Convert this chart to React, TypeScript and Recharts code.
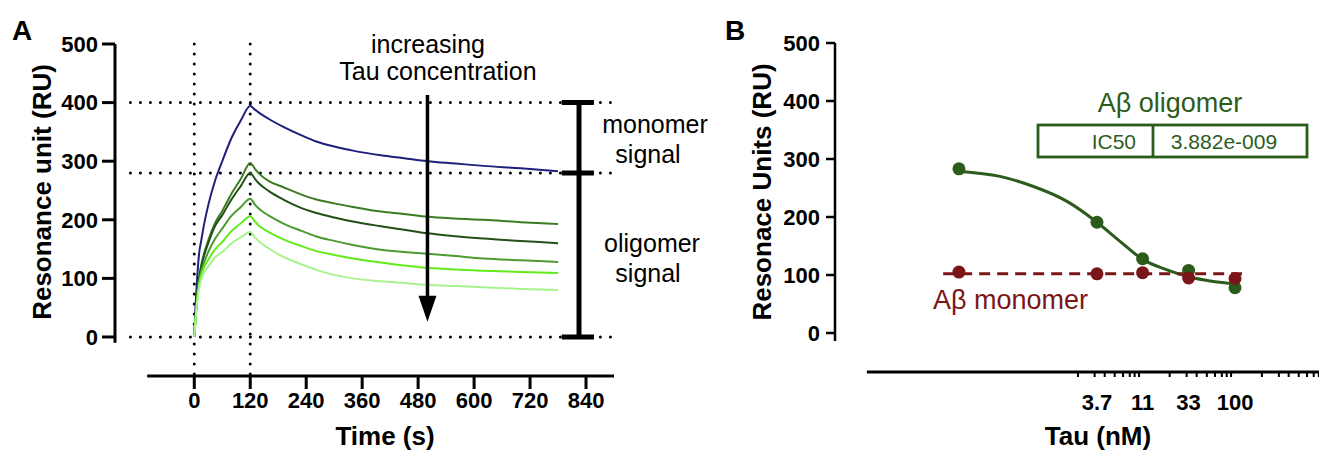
import React from 'react';
import { ComposedChart, Line, XAxis, YAxis, ReferenceLine, ReferenceDot } from 'recharts';

// ---------- Panel A: sensorgram ----------
const sensorTime = [0, 2, 5, 10, 15, 20, 30, 45, 60, 80, 100, 120, 130, 140, 160, 190, 230, 260, 300, 340, 400, 450, 500, 560, 620, 700, 780];
const monomerTrace = [0, 40, 85, 140, 165, 188, 225, 268, 300, 340, 370, 394, 388, 382, 372, 359, 344, 334, 325, 318, 310, 305, 300, 296, 292, 288, 283];
const oligoTrace1 = [0, 25, 58, 100, 123, 140, 165, 195, 215, 245, 270, 297, 287, 278, 266, 256, 243, 235, 228, 222, 214, 210, 205, 202, 200, 196, 193];
const oligoTrace2 = [0, 25, 58, 98, 120, 136, 160, 190, 208, 235, 258, 280, 270, 261, 249, 235, 220, 212, 204, 197, 189, 183, 177, 172, 168, 164, 160];
const oligoTrace3 = [0, 24, 55, 92, 112, 125, 145, 168, 185, 207, 222, 236, 226, 218, 207, 194, 181, 172, 164, 157, 149, 145, 142, 138, 134, 131, 128];
const oligoTrace4 = [0, 23, 53, 88, 106, 117, 132, 150, 162, 181, 194, 206, 197, 189, 179, 167, 155, 147, 140, 134, 127, 122, 118, 115, 113, 111, 109];
const oligoTrace5 = [0, 22, 50, 82, 98, 108, 120, 136, 145, 160, 170, 179, 170, 162, 151, 137, 124, 115, 106, 100, 95, 92, 89, 87, 85, 82, 80];
const timeTicks = [0, 120, 240, 360, 480, 600, 720, 840];
const ruTicks = [0, 100, 200, 300, 400, 500];
const guideTimes = [0, 120];
const guideLevels = [400, 280, 0];
const arrowTime = 500;
const arrowFrom = 413;
const arrowTo = 26;
const barTime = 825;
const barLevels = [400, 280, 0];

// ---------- Panel B: dose response ----------
const tauConc = [0.137, 3.7, 11, 33, 100];
const oligomerRU = [283, 191, 128, 108, 78];
const monomerRU = [105, 102, 104, 95, 94];
const oligoFitConc = [0.137, 0.365, 0.8, 1.81, 3.7, 6.41, 11, 19.7, 33, 59.2, 100];
const oligoFitRU = [279, 270, 253, 227, 191, 158, 127, 109, 97, 89, 85];
const monoFitConc = [0.094, 118];
const monoFitRU = [102, 102];
const tauTickLabels = [3.7, 11, 33, 100];
const tauMinorTicks = [2.35, 3.5, 4.45, 5.65, 6.9, 8.1, 9.1, 10.1, 21, 31.5, 40, 51, 62, 73, 82, 91, 190, 285, 360, 458, 558, 655, 740];

const FONT = '"Liberation Sans", Arial, Helvetica, sans-serif';
const GREEN = '#2c5c1b';
const RED = '#7a1619';
const traceColors = ['#1f1f7c', '#3b7b22', '#245016', '#4c9b30', '#62ea1a', '#a8f290'];
const traceKeys = ['m', 'o1', 'o2', 'o3', 'o4', 'o5'];
const traceArrays = [monomerTrace, oligoTrace1, oligoTrace2, oligoTrace3, oligoTrace4, oligoTrace5];

const sensorData = sensorTime.map((t, i) => {
  const row: Record<string, number> = { t };
  traceKeys.forEach((k, j) => { row[k] = traceArrays[j][i]; });
  return row;
});

const oligoPoints = tauConc.map((c, i) => ({ c, y: oligomerRU[i] }));
const monoPoints = tauConc.map((c, i) => ({ c, y: monomerRU[i] }));
const oligoFit = oligoFitConc.map((c, i) => ({ c, y: oligoFitRU[i] }));
const monoFit = monoFitConc.map((c, i) => ({ c, y: monoFitRU[i] }));

const A_XMIN = -170, A_XMAX = 900, A_YMIN = -66.6;
const B_XMIN = 0.0071, B_XMAX = 743, B_YMIN = -67.2;

const dotted = { stroke: '#000', strokeWidth: 3, strokeDasharray: '0 10', strokeLinecap: 'round' as const };

const TauTick = (props: any) => {
  const { x, y, payload } = props;
  if (tauTickLabels.includes(payload.value)) {
    return (
      <text x={x} y={y + 30} textAnchor="middle" dominantBaseline="central" fontSize={22} fontWeight="bold" fontFamily={FONT} fill="#000">
        {payload.value}
      </text>
    );
  }
  return <line x1={x} x2={x} y1={y} y2={y + 5} stroke="#000" strokeWidth={2} />;
};

const ArrowHead = (props: any) => {
  const { cx, cy } = props;
  return <polygon points={`${cx},${cy} ${cx - 9},${cy - 26} ${cx + 9},${cy - 26}`} fill="#000" />;
};

export default function App() {
  return (
    <div style={{ position: 'absolute', left: 0, top: 0, width: 1319, height: 454, background: '#fff', overflow: 'hidden', fontFamily: FONT }}>
      <div style={{ position: 'absolute', left: 0, top: 0 }}>
        <ComposedChart width={700} height={454} data={sensorData} margin={{ top: 44, right: 86, bottom: 18, left: 55 }}>
          <XAxis
            dataKey="t" type="number" domain={[A_XMIN, A_XMAX]} allowDataOverflow ticks={timeTicks} interval={0}
            axisLine={false} tickLine={{ stroke: '#000', strokeWidth: 3 }} tickSize={13} tickMargin={3} height={60}
            tick={{ fontSize: 22, fontWeight: 'bold', fill: '#000', fontFamily: FONT }}
          />
          <YAxis
            type="number" domain={[A_YMIN, 500]} allowDataOverflow ticks={ruTicks} interval={0} width={60}
            axisLine={false} tickLine={{ stroke: '#000', strokeWidth: 3 }} tickSize={13} tickMargin={4}
            tick={{ fontSize: 22, fontWeight: 'bold', fill: '#000', fontFamily: FONT }}
          />
          {guideTimes.map((g) => (
            <ReferenceLine key={'v' + g} ifOverflow="visible" segment={[{ x: g, y: 500 }, { x: g, y: A_YMIN }]} {...dotted} />
          ))}
          {guideLevels.map((g) => (
            <ReferenceLine key={'h' + g} ifOverflow="visible" segment={[{ x: -137, y: g }, { x: 897, y: g }]} {...dotted} />
          ))}
          <ReferenceLine ifOverflow="visible" segment={[{ x: A_XMIN, y: -10 }, { x: A_XMIN, y: 500 }]} stroke="#000" strokeWidth={3} />
          <ReferenceLine ifOverflow="visible" segment={[{ x: -101, y: A_YMIN }, { x: A_XMAX, y: A_YMIN }]} stroke="#000" strokeWidth={3} />
          {traceKeys.map((k, j) => (
            <Line key={k} dataKey={k} type="monotone" stroke={traceColors[j]} strokeWidth={2} dot={false} isAnimationActive={false} />
          ))}
          <ReferenceLine ifOverflow="visible" segment={[{ x: arrowTime, y: arrowFrom }, { x: arrowTime, y: 60 }]} stroke="#000" strokeWidth={3.5} />
          <ReferenceDot ifOverflow="visible" x={arrowTime} y={arrowTo} r={0} shape={ArrowHead} />
          <ReferenceLine ifOverflow="visible" segment={[{ x: barTime, y: 0 }, { x: barTime, y: 400 }]} stroke="#000" strokeWidth={5} />
          {barLevels.map((b) => (
            <ReferenceLine key={'c' + b} ifOverflow="visible" segment={[{ x: 788, y: b }, { x: 857, y: b }]} stroke="#000" strokeWidth={5} />
          ))}
        </ComposedChart>
      </div>

      <div style={{ position: 'absolute', left: 720, top: 0 }}>
        <ComposedChart width={599} height={454} margin={{ top: 43, right: 0, bottom: 22, left: 55 }}>
          <XAxis
            dataKey="c" type="number" scale="log" domain={[B_XMIN, B_XMAX]} allowDataOverflow
            ticks={[...tauTickLabels, ...tauMinorTicks]} interval={0} axisLine={false} tickLine={false}
            tickSize={0} tickMargin={0} height={60} tick={<TauTick />}
          />
          <YAxis
            dataKey="y" type="number" domain={[B_YMIN, 500]} allowDataOverflow ticks={ruTicks} interval={0} width={60}
            axisLine={false} tickLine={{ stroke: '#000', strokeWidth: 2.5 }} tickSize={9} tickMargin={6}
            tick={{ fontSize: 22, fontWeight: 'bold', fill: '#000', fontFamily: FONT }}
          />
          <ReferenceLine ifOverflow="visible" segment={[{ x: B_XMIN, y: -13.8 }, { x: B_XMIN, y: 500 }]} stroke="#000" strokeWidth={2.5} />
          <ReferenceLine ifOverflow="visible" segment={[{ x: 0.0152, y: B_YMIN }, { x: B_XMAX, y: B_YMIN }]} stroke="#000" strokeWidth={3} />
          <Line data={oligoFit} dataKey="y" type="monotone" stroke={GREEN} strokeWidth={3} dot={false} isAnimationActive={false} />
          <Line data={oligoPoints} dataKey="y" stroke="none" dot={{ r: 6.5, fill: GREEN, stroke: 'none' }} isAnimationActive={false} />
          <Line data={monoFit} dataKey="y" stroke={RED} strokeWidth={3} strokeDasharray="11 7" dot={false} isAnimationActive={false} />
          <Line data={monoPoints} dataKey="y" stroke="none" dot={{ r: 6.5, fill: RED, stroke: 'none' }} isAnimationActive={false} />
        </ComposedChart>
      </div>

      <svg width={1319} height={454} style={{ position: 'absolute', left: 0, top: 0, pointerEvents: 'none' }} fontFamily={FONT}>
        <text x={22} y={30} textAnchor="middle" dominantBaseline="central" fontSize={28} fontWeight="bold">A</text>
        <text x={735} y={30} textAnchor="middle" dominantBaseline="central" fontSize={28} fontWeight="bold">B</text>
        <text x={42} y={192} transform="rotate(-90 42 192)" textAnchor="middle" dominantBaseline="central" fontSize={26} fontWeight="bold">Resonance unit (RU)</text>
        <text x={385} y={436} textAnchor="middle" dominantBaseline="central" fontSize={26} fontWeight="bold">Time (s)</text>
        <text x={428} y={44} textAnchor="middle" dominantBaseline="central" fontSize={25}>increasing</text>
        <text x={438} y={71} textAnchor="middle" dominantBaseline="central" fontSize={25}>Tau concentration</text>
        <text x={655} y={124} textAnchor="middle" dominantBaseline="central" fontSize={25}>monomer</text>
        <text x={648} y={154} textAnchor="middle" dominantBaseline="central" fontSize={25}>signal</text>
        <text x={652} y={243} textAnchor="middle" dominantBaseline="central" fontSize={25}>oligomer</text>
        <text x={648} y={273} textAnchor="middle" dominantBaseline="central" fontSize={25}>signal</text>
        <text x={762} y={192} transform="rotate(-90 762 192)" textAnchor="middle" dominantBaseline="central" fontSize={26} fontWeight="bold">Resonace Units (RU)</text>
        <text x={1098} y={436} textAnchor="middle" dominantBaseline="central" fontSize={26} fontWeight="bold">Tau (nM)</text>
        <text x={1170} y={103} textAnchor="middle" dominantBaseline="central" fontSize={27} fill={GREEN}>Aβ oligomer</text>
        <rect x={1038} y={125} width={269} height={32} fill="none" stroke={GREEN} strokeWidth={2.8} />
        <line x1={1153} x2={1153} y1={125} y2={157} stroke={GREEN} strokeWidth={2.8} />
        <text x={1136} y={141} textAnchor="end" dominantBaseline="central" fontSize={21} fill={GREEN}>IC50</text>
        <text x={1224} y={141} textAnchor="middle" dominantBaseline="central" fontSize={21} fill={GREEN}>3.882e-009</text>
        <text x={933} y={300} textAnchor="start" dominantBaseline="central" fontSize={27} fill={RED}>Aβ monomer</text>
      </svg>
    </div>
  );
}
